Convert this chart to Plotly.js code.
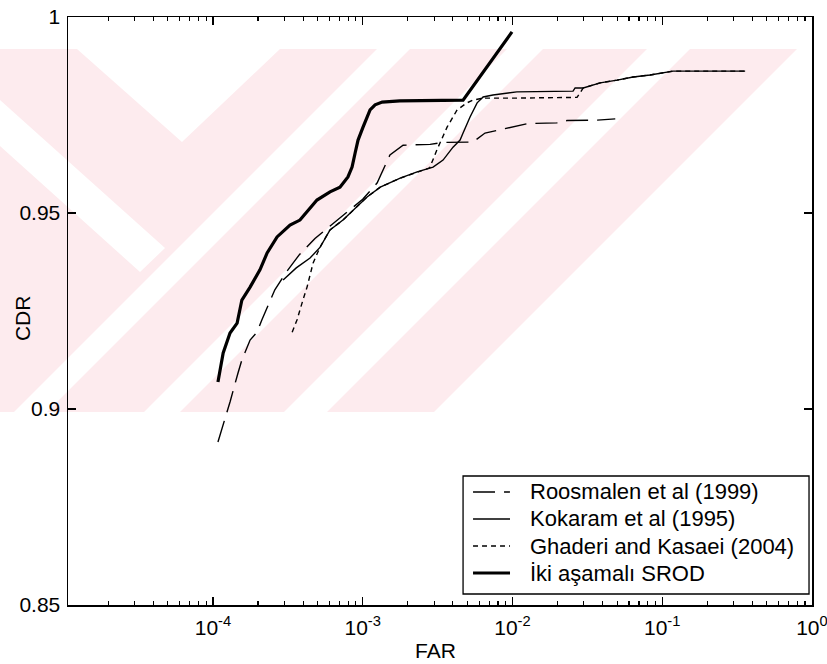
<!DOCTYPE html>
<html>
<head>
<meta charset="utf-8">
<script src="https://cdn.plot.ly/plotly-3.0.1.min.js"></script>
<style>html,body{margin:0;padding:0;background:#fff;}#chart{width:827px;height:664px;}</style>
</head>
<body>
<div id="chart"></div>
<script>
// ---- data ----
const seriesNames = ["Roosmalen et al (1999)", "Kokaram et al (1995)", "Ghaderi and Kasaei (2004)", "İki aşamalı SROD"];

const roosX = [1.08e-4, 1.24e-4, 1.30e-4, 1.47e-4, 1.56e-4, 1.77e-4, 1.97e-4, 2.12e-4, 2.59e-4, 3.1e-4, 3.8e-4, 4.8e-4, 6.2e-4, 8.0e-4, 1.0e-3, 1.25e-3, 1.52e-3, 1.86e-3, 2.82e-3, 3.45e-3, 5.46e-3, 6.56e-3, 1.01e-2, 1.26e-2, 1.98e-2, 2.32e-2, 3.69e-2, 4.86e-2];
const roosY = [0.8916, 0.8990, 0.9018, 0.9092, 0.9125, 0.9176, 0.9196, 0.9227, 0.9304, 0.9350, 0.9395, 0.9435, 0.9470, 0.9505, 0.9535, 0.9577, 0.9648, 0.9673, 0.9675, 0.9680, 0.9681, 0.9704, 0.9720, 0.9728, 0.9730, 0.9736, 0.9737, 0.9740];

const kokX = [2.94e-4, 3.6e-4, 4.45e-4, 5.2e-4, 6.05e-4, 7.38e-4, 1.07e-3, 1.31e-3, 1.78e-3, 2.31e-3, 2.95e-3, 3.44e-3, 4.01e-3, 4.47e-3, 4.68e-3, 5.21e-3, 5.81e-3, 6.37e-3, 7.41e-3, 1.07e-2, 2.54e-2, 2.62e-2, 2.97e-2, 3.85e-2, 5.0e-2, 6.4e-2, 8.3e-2, 0.108, 0.118, 0.358];
const kokY = [0.9329, 0.9360, 0.9385, 0.9413, 0.9457, 0.9482, 0.9541, 0.9566, 0.9589, 0.9605, 0.9617, 0.9635, 0.9668, 0.9686, 0.9704, 0.9745, 0.9781, 0.9796, 0.9801, 0.9809, 0.9811, 0.9819, 0.9819, 0.9832, 0.9839, 0.9847, 0.9852, 0.9860, 0.9862, 0.9862];

const ghaX = [3.38e-4, 3.64e-4, 3.99e-4, 4.25e-4, 4.66e-4, 5.19e-4, 6.05e-4, 7.38e-4, 1.07e-3, 1.31e-3, 1.78e-3, 2.31e-3, 2.8e-3, 3.13e-3, 3.66e-3, 4.27e-3, 4.97e-3, 5.46e-3, 6.37e-3, 1.0e-2, 2.0e-2, 2.70e-2, 2.97e-2, 3.85e-2, 5.0e-2, 6.4e-2, 8.3e-2, 0.108, 0.118, 0.358];
const ghaY = [0.9196, 0.9227, 0.9278, 0.9311, 0.9372, 0.9413, 0.9457, 0.9482, 0.9541, 0.9566, 0.9589, 0.9605, 0.9615, 0.9661, 0.9719, 0.9763, 0.9781, 0.9788, 0.9793, 0.9793, 0.9794, 0.9795, 0.9819, 0.9832, 0.9839, 0.9847, 0.9852, 0.9860, 0.9862, 0.9862];

const srodX = [1.08e-4, 1.17e-4, 1.30e-4, 1.45e-4, 1.56e-4, 1.77e-4, 2.06e-4, 2.30e-4, 2.68e-4, 3.27e-4, 3.81e-4, 4.95e-4, 6.05e-4, 7.05e-4, 7.97e-4, 8.49e-4, 8.90e-4, 9.31e-4, 1.005e-3, 1.07e-3, 1.12e-3, 1.21e-3, 1.35e-3, 1.77e-3, 4.68e-3, 9.93e-3];
const srodY = [0.9069, 0.9143, 0.9194, 0.9219, 0.9278, 0.9311, 0.9355, 0.9398, 0.9439, 0.9469, 0.9482, 0.9533, 0.9554, 0.9566, 0.9592, 0.9617, 0.9653, 0.9686, 0.9719, 0.9745, 0.9763, 0.9776, 0.9783, 0.9786, 0.9788, 0.9962];

const xTickVals = [1e-4, 1e-3, 1e-2, 1e-1, 1];
const xTickText = ["10<sup>-4</sup>", "10<sup>-3</sup>", "10<sup>-2</sup>", "10<sup>-1</sup>", "10<sup>0</sup>"];
const yTickVals = [0.85, 0.9, 0.95, 1];
const yTickText = ["0.85", "0.9", "0.95", "1"];
const xTitle = "FAR";
const yTitle = "CDR";

// minor log ticks 2..9 in each decade
const minorVals = [];
for (let e = -5; e < 0; e++) {
  for (let k = 2; k <= 9; k++) minorVals.push(k * Math.pow(10, e));
}

const FONT = "Liberation Sans, Arial, Helvetica, sans-serif";
const styles = [
  {width: 1.4, dash: "22px,9px"},
  {width: 1.4, dash: "solid"},
  {width: 1.4, dash: "5px,4px"},
  {width: 3.2, dash: "solid"}
];
const xs = [roosX, kokX, ghaX, srodX];
const ys = [roosY, kokY, ghaY, srodY];

const traces = seriesNames.map((n, i) => ({
  x: xs[i], y: ys[i], name: n, mode: "lines", showlegend: false,
  line: {color: "#000", width: styles[i].width, dash: styles[i].dash}
}));

// ---- page geometry helpers (paper coordinates) ----
const PL = 68, PR = 812, PT = 17, PB = 605;
const px = v => (v - PL) / (PR - PL);
const py = v => (PB - v) / (PB - PT);
const pathOf = pts => "M" + pts.map(p => px(p[0]).toFixed(4) + "," + py(p[1]).toFixed(4)).join("L") + "Z";

// ---- faint scanned watermark (decoration behind the plot) ----
const WM_PINK = "#fdebee";
const wmPink = [[0, 49], [797, 49], [434, 412], [0, 412]];
const wmWhite = [
  [[77, 49], [280, 49], [182, 142]],
  [[0, 100], [165, 248], [140, 272], [0, 146]],
  [[377, 49], [410, 49], [47, 412], [14, 412]],
  [[507, 49], [543, 49], [180, 412], [144, 412]],
  [[647, 49], [690, 49], [327, 412], [284, 412]]
];
const shapes = [];
shapes.push({type: "path", xref: "paper", yref: "paper", path: pathOf(wmPink), fillcolor: WM_PINK, line: {width: 0}, layer: "below"});
wmWhite.forEach(p => shapes.push({type: "path", xref: "paper", yref: "paper", path: pathOf(p), fillcolor: "#fff", line: {width: 0}, layer: "below"}));

// ---- hand-built legend box (MATLAB style) ----
const legBox = {x0: 0.531, x1: 0.996, y0: 0.0187, y1: 0.2194};
const legRowsY = [0.1922, 0.1463, 0.1003, 0.0544];
const legLine = {x0: 0.5444, x1: 0.5941};
const legTextX = 0.6183;

shapes.push({
  type: "rect", xref: "paper", yref: "paper",
  x0: legBox.x0, x1: legBox.x1, y0: legBox.y0, y1: legBox.y1,
  line: {color: "#000", width: 1.3}, fillcolor: "#fff", layer: "above"
});
const annotations = [];
seriesNames.forEach((n, i) => {
  shapes.push({
    type: "line", xref: "paper", yref: "paper",
    x0: legLine.x0, x1: legLine.x1, y0: legRowsY[i], y1: legRowsY[i],
    line: {color: "#000", width: styles[i].width, dash: styles[i].dash}, layer: "above"
  });
  annotations.push({
    xref: "paper", yref: "paper", x: legTextX, y: legRowsY[i],
    xanchor: "left", yanchor: "middle", text: n, showarrow: false,
    font: {family: FONT, size: 22, color: "#000"}
  });
});
annotations.push({
  xref: "paper", yref: "paper", x: 0.4933, y: -0.077, xanchor: "center", yanchor: "middle",
  text: xTitle, showarrow: false, font: {family: FONT, size: 21, color: "#000"}
});
annotations.push({
  xref: "paper", yref: "paper", x: -0.0618, y: 0.488, xanchor: "center", yanchor: "middle",
  text: yTitle, textangle: -90, showarrow: false, font: {family: FONT, size: 21, color: "#000"}
});

const layout = {
  width: 827, height: 664,
  margin: {l: 68, r: 15, t: 17, b: 59, pad: 0},
  paper_bgcolor: "#fff",
  plot_bgcolor: "rgba(0,0,0,0)",
  font: {family: FONT, size: 21, color: "#000"},
  showlegend: false,
  shapes: shapes,
  annotations: annotations,
  xaxis: {
    type: "log", range: [-4.968, 0.0004],
    showline: true, linecolor: "#000", linewidth: 1.5, mirror: "ticks",
    ticks: "inside", ticklen: 8, tickwidth: 1.2, tickcolor: "#000",
    tickmode: "array", tickvals: xTickVals, ticktext: xTickText,
    ticklabeloverflow: "allow", ticklabelstandoff: 3,
    minor: {tickmode: "array", tickvals: minorVals, ticks: "inside", ticklen: 4, tickwidth: 1.2, tickcolor: "#000", showgrid: false},
    showgrid: false, zeroline: false,
    tickfont: {family: FONT, size: 21, color: "#000"}
  },
  yaxis: {
    range: [0.85, 1],
    showline: true, linecolor: "#000", linewidth: 1.5, mirror: "ticks",
    ticks: "inside", ticklen: 8, tickwidth: 1.2, tickcolor: "#000",
    tickmode: "array", tickvals: yTickVals, ticktext: yTickText,
    showgrid: false, zeroline: false,
    ticklabelstandoff: 2,
    tickfont: {family: FONT, size: 21, color: "#000"}
  }
};

Plotly.newPlot("chart", traces, layout, {displayModeBar: false, staticPlot: true});
</script>
</body>
</html>
